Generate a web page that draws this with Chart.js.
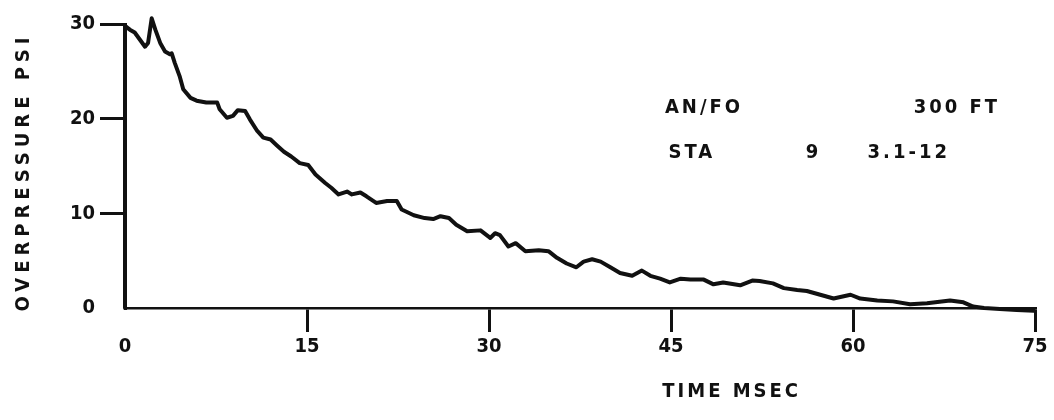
<!DOCTYPE html>
<html>
<head>
<meta charset="utf-8">
<title>Overpressure vs time</title>
<script src="https://cdn.jsdelivr.net/npm/chart.js@4.4.1/dist/chart.umd.min.js"></script>
<style>
  html, body { margin: 0; padding: 0; background: #fff; }
  #wrap { width: 1054px; height: 420px; }
</style>
</head>
<body>
<div id="wrap"><canvas id="gauge"></canvas></div>
<script>
// pressure record, time in msec, overpressure in psi
const timeMs = [0, 0, 0.4, 0.8, 1.65, 1.9, 2.2, 2.5, 2.9, 3.3, 3.7, 3.85, 4.1, 4.5, 4.8, 5.4, 5.9, 6.7, 7.6, 7.8,
  8.4, 8.9, 9.3, 9.9, 10.3, 10.9, 11.4, 12.0, 12.5, 13.1, 13.7, 14.4, 15.1, 15.7, 16.5, 17.0, 17.6, 18.3, 18.7, 19.4,
  19.9, 20.7, 21.6, 22.4, 22.8, 23.8, 24.7, 25.4, 26.0, 26.7, 27.3, 28.2, 29.3, 30.1, 30.5, 30.9, 31.6, 32.2, 33.0, 34.1,
  34.9, 35.6, 36.4, 37.2, 37.8, 38.5, 39.2, 40.0, 40.8, 41.8, 42.6, 43.3, 44.1, 44.9, 45.8, 46.6, 47.7, 48.5, 49.3, 50.7,
  51.7, 52.3, 53.4, 54.3, 55.4, 56.2, 57.3, 58.4, 59.8, 60.6, 62.0, 63.3, 64.7, 66.1, 68.0, 69.1, 69.9, 70.8, 72.1, 73.5,
  74.9];
const overpressurePsi = [0, 29.8, 29.4, 29.1, 27.6, 28.0, 30.6, 29.4, 28.0, 27.1, 26.8, 26.9, 25.9, 24.5, 23.1, 22.2, 21.9, 21.7, 21.7, 21.0,
  20.1, 20.3, 20.9, 20.8, 19.9, 18.7, 18.0, 17.8, 17.2, 16.5, 16.0, 15.3, 15.1, 14.1, 13.2, 12.7, 12.0, 12.3, 12.0, 12.2,
  11.8, 11.1, 11.3, 11.3, 10.4, 9.8, 9.5, 9.4, 9.7, 9.5, 8.8, 8.1, 8.2, 7.4, 7.9, 7.7, 6.5, 6.85, 6.0, 6.1,
  6.0, 5.3, 4.7, 4.3, 4.9, 5.15, 4.9, 4.3, 3.7, 3.4, 3.95, 3.4, 3.1, 2.7, 3.1, 3.0, 3.0, 2.5, 2.7, 2.4,
  2.9, 2.85, 2.6, 2.1, 1.9, 1.8, 1.4, 1.0, 1.4, 1.0, 0.8, 0.7, 0.4, 0.5, 0.8, 0.6, 0.15, 0, -0.1, -0.2,
  -0.3];

const timeTicks = [0, 15, 30, 45, 60, 75];
const psiTicks = [0, 10, 20, 30];

const yTitle = "OVERPRESSURE PSI";
const xTitle = "TIME MSEC";
// gauge notes: text and where it sits, in (msec, psi)
const notes = [
  { text: "AN/FO", t: 44.5, p: 21.1 },
  { text: "300 FT", t: 65.0, p: 21.1 },
  { text: "STA", t: 44.8, p: 16.4 },
  { text: "9", t: 56.1, p: 16.4 },
  { text: "3.1-12", t: 61.2, p: 16.4 },
];

const ink = "#111";
const face = '"DejaVu Sans Condensed", "DejaVu Sans", sans-serif';
const tickFont = { family: face, size: 20, weight: "bold" };
const hide = "rgba(0,0,0,0)";

const textPlugin = {
  id: "gaugeText",
  afterDraw(chart) {
    const { ctx } = chart;
    const xs = chart.scales.x, ys = chart.scales.y;
    ctx.save();
    ctx.fillStyle = ink;
    ctx.font = "bold 20px " + face;
    ctx.letterSpacing = "3px";
    ctx.textBaseline = "middle";
    ctx.textAlign = "left";
    notes.forEach(n => {
      ctx.fillText(n.text, xs.getPixelForValue(n.t), ys.getPixelForValue(n.p));
    });
    // axis titles
    ctx.textAlign = "center";
    ctx.fillText(xTitle, xs.getPixelForValue(50), 392);
    ctx.translate(24, (ys.top + ys.bottom) / 2 + 6);
    ctx.rotate(-Math.PI / 2);
    ctx.letterSpacing = "5px";
    ctx.fillText(yTitle, 0, 0);
    ctx.restore();
  }
};

new Chart(document.getElementById("gauge"), {
  type: "line",
  data: {
    datasets: [{
      data: timeMs.map((t, i) => ({ x: t, y: overpressurePsi[i] })),
      borderColor: ink,
      borderWidth: 4,
      pointRadius: 0,
      tension: 0,
      clip: false,
      borderJoinStyle: "round",
      borderCapStyle: "round",
    }],
  },
  options: {
    responsive: true,
    maintainAspectRatio: false,
    animation: false,
    layout: { padding: { left: 0, right: 19, top: 24, bottom: 0 } },
    plugins: { legend: { display: false }, tooltip: { enabled: false } },
    scales: {
      x: {
        type: "linear",
        min: 0,
        max: 75,
        afterFit(s) { s.height = 112; },
        afterBuildTicks(s) { s.ticks = timeTicks.map(v => ({ value: v })); },
        border: { display: true, color: ink, width: 2.5, dash: [7, 4] },
        grid: {
          drawOnChartArea: false,
          tickLength: 24,
          lineWidth: 3,
          color: c => (c.tick && c.tick.value === 0 ? hide : ink),
        },
        ticks: { padding: 3, color: ink, font: tickFont, maxRotation: 0 },
      },
      y: {
        min: 0,
        max: 30,
        afterFit(s) { s.width = 125; },
        afterBuildTicks(s) { s.ticks = psiTicks.map(v => ({ value: v })); },
        border: { display: true, color: ink, width: 3 },
        grid: {
          drawOnChartArea: false,
          tickLength: 25,
          lineWidth: 3,
          color: c => (c.tick && c.tick.value === 0 ? hide : ink),
        },
        ticks: { padding: 5, color: ink, font: tickFont },
      },
    },
  },
  plugins: [textPlugin],
});
</script>
</body>
</html>
